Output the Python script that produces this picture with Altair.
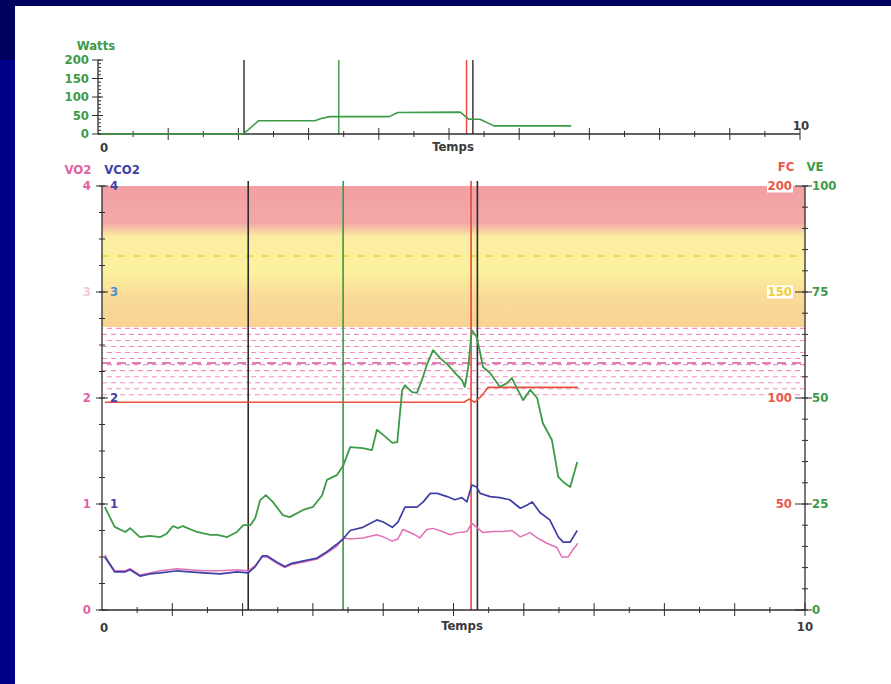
import altair as alt
import numpy as np
import pandas as pd

# ---------------- exercise test recordings (time in minutes) ----------------
# workload, top panel
watts_time = [0.03, 2.07, 2.29, 3.09, 3.18, 3.30, 4.15, 4.27, 5.16, 5.28, 5.44, 5.64, 6.74]
watts = [0, 0, 36, 36, 42, 47, 47, 58, 59, 40, 40, 22, 22]

# ventilation VE (l/min)
ve_time = [0.04, 0.18, 0.33, 0.40, 0.54, 0.68, 0.83, 0.92, 1.01, 1.08, 1.15, 1.35, 1.54,
           1.64, 1.78, 1.92, 2.01, 2.11, 2.18, 2.25, 2.33, 2.43, 2.57, 2.67, 2.86, 3.00,
           3.13, 3.20, 3.34, 3.43, 3.53, 3.71, 3.84, 3.91, 4.00, 4.13, 4.20, 4.27, 4.31,
           4.41, 4.48, 4.55, 4.62, 4.71, 4.81, 4.92, 5.05, 5.12, 5.16, 5.21, 5.26, 5.33,
           5.38, 5.42, 5.52, 5.66, 5.76, 5.83, 5.90, 5.99, 6.09, 6.19, 6.27, 6.40, 6.49,
           6.56, 6.66, 6.76]
ve = [24.3, 19.6, 18.4, 19.3, 17.2, 17.5, 17.2, 18.0, 19.8, 19.3, 19.8, 18.4, 17.7,
      17.7, 17.2, 18.4, 20.0, 20.0, 21.7, 25.9, 27.1, 25.5, 22.4, 21.9, 23.6, 24.3,
      27.0, 30.7, 31.8, 34.0, 38.4, 38.2, 37.7, 42.5, 41.3, 39.4, 39.6, 51.9, 53.0,
      51.4, 51.2, 54.2, 57.8, 61.3, 59.4, 57.8, 55.4, 54.2, 52.6, 57.3, 66.0, 64.4,
      60.6, 57.3, 55.9, 52.6, 53.5, 54.7, 52.4, 49.5, 51.9, 50.0, 44.1, 40.1, 31.4,
      30.2, 29.0, 34.9]

# carbon dioxide output VCO2 (l/min)
vco2_time = [0.04, 0.09, 0.18, 0.33, 0.40, 0.54, 0.68, 0.83, 1.07, 1.25, 1.44, 1.68, 1.92,
             2.08, 2.18, 2.28, 2.35, 2.49, 2.60, 2.70, 2.92, 3.06, 3.20, 3.34, 3.43, 3.53,
             3.71, 3.91, 4.00, 4.13, 4.21, 4.31, 4.48, 4.57, 4.67, 4.77, 4.91, 5.02, 5.12,
             5.19, 5.26, 5.33, 5.38, 5.52, 5.66, 5.80, 5.95, 6.05, 6.12, 6.23, 6.37, 6.49,
             6.56, 6.66, 6.76]
vco2 = [0.50, 0.45, 0.36, 0.36, 0.38, 0.32, 0.34, 0.35, 0.37, 0.36, 0.35, 0.34, 0.36,
        0.35, 0.41, 0.51, 0.51, 0.45, 0.41, 0.44, 0.47, 0.49, 0.55, 0.62, 0.67, 0.75,
        0.78, 0.85, 0.83, 0.78, 0.83, 0.97, 0.97, 1.02, 1.10, 1.10, 1.07, 1.04, 1.06,
        1.02, 1.18, 1.16, 1.10, 1.07, 1.06, 1.04, 0.96, 0.99, 1.02, 0.92, 0.85, 0.69,
        0.64, 0.64, 0.75]

# oxygen uptake VO2 (l/min)
vo2_time = [0.04, 0.09, 0.18, 0.33, 0.40, 0.54, 0.68, 0.83, 1.07, 1.25, 1.44, 1.68, 1.92,
            2.08, 2.18, 2.28, 2.35, 2.49, 2.60, 2.70, 2.92, 3.06, 3.20, 3.34, 3.43, 3.53,
            3.71, 3.91, 4.00, 4.13, 4.21, 4.28, 4.35, 4.45, 4.52, 4.62, 4.71, 4.84, 4.95,
            5.06, 5.19, 5.26, 5.33, 5.42, 5.56, 5.70, 5.83, 5.95, 6.09, 6.19, 6.33, 6.47,
            6.54, 6.63, 6.70, 6.77]
vo2 = [0.52, 0.46, 0.37, 0.37, 0.39, 0.33, 0.35, 0.37, 0.39, 0.38, 0.37, 0.37, 0.38,
       0.37, 0.42, 0.50, 0.50, 0.44, 0.40, 0.43, 0.46, 0.48, 0.54, 0.60, 0.68, 0.67,
       0.68, 0.71, 0.69, 0.65, 0.67, 0.76, 0.74, 0.71, 0.68, 0.76, 0.77, 0.74, 0.71,
       0.73, 0.74, 0.82, 0.78, 0.73, 0.74, 0.74, 0.75, 0.69, 0.73, 0.68, 0.63, 0.59,
       0.50, 0.50, 0.57, 0.63]

# heart rate FC (bpm)
fc_time = [0.04, 5.15, 5.22, 5.30, 5.40, 5.49, 6.77]
fc = [98, 98, 99.5, 98, 101, 105, 105]

# event markers (time) and their kinds
event_time = [2.08, 3.43, 5.25, 5.34]
event_kind = ["start", "threshold", "peak", "stop"]

# heart-rate training zones (bpm)
zone_high = [133.5, 200]
zone_mid = [100.5, 133.5]
zone_dash_fc = 167

# axis ticks
gas_labels = [0, 1, 2, 3, 4]
vco2_labels = [1, 2, 3, 4]
fc_labels = [50, 100, 150, 200]
ve_labels = [0, 25, 50, 75, 100]
watts_labels = [0, 50, 100, 150, 200]

# ---------------- styling ----------------
FONT = "DejaVu Sans Condensed, Liberation Sans Narrow, DejaVu Sans, sans-serif"
PINK = "#e2629f"
BLUE = "#3f3fa6"
GREEN = "#3d9a47"
RED = "#e8503c"
AXIS = "#2e2e2e"
GREY = "#3a3a3a"
EVENT_COLORS = {"start": "#2b2b2b", "threshold": "#3a9a44", "peak": "#e8463c", "stop": "#2b2b2b"}

# geometry of the two panels inside the view
MAIN_X = [87, 790]
MAIN_Y = [604, 180]
TOP_X = [83, 785]
TOP_Y = [128, 54]


def sc(domain, rng):
    return alt.Scale(domain=domain, range=rng, nice=False, zero=False)


t_main = sc([0, 10], MAIN_X)
t_top = sc([0, 10], TOP_X)
y_gas = sc([0, 4], MAIN_Y)
y_fc = sc([0, 200], MAIN_Y)
y_ve = sc([0, 100], MAIN_Y)
y_w = sc([0, 200], TOP_Y)

one = pd.DataFrame({"k": [0]})
layers = []

# lighter blue lower part of the left margin
layers.append(alt.Chart(one).mark_rect(color="#000088").encode(
    x=alt.value(-15), x2=alt.value(0), y=alt.value(54), y2=alt.value(678)))

# ---- zones ----
grad = alt.LinearGradient(
    gradient="linear", x1=0, x2=0, y1=0, y2=1,
    stops=[alt.GradientStop(offset=0.0, color="#f2a0a3"),
           alt.GradientStop(offset=0.26, color="#f3a8a6"),
           alt.GradientStop(offset=0.36, color="#fbeda2"),
           alt.GradientStop(offset=0.60, color="#fcf29e"),
           alt.GradientStop(offset=0.78, color="#fadb98"),
           alt.GradientStop(offset=1.0, color="#f9d292")])
zone_df = pd.DataFrame({"t0": [0], "t1": [10], "lo": [zone_high[0]], "hi": [zone_high[1]]})
layers.append(alt.Chart(zone_df).mark_rect(color=grad).encode(
    x=alt.X("t0:Q", scale=t_main, axis=None), x2="t1:Q",
    y=alt.Y("hi:Q", scale=y_fc, axis=None), y2="lo:Q"))

dash_df = pd.DataFrame({"t0": [0], "t1": [10], "fc": [zone_dash_fc]})
layers.append(alt.Chart(dash_df).mark_rule(color="#eccf3a", strokeWidth=1.5, strokeDash=[7, 9]).encode(
    x=alt.X("t0:Q", scale=t_main, axis=None), x2="t1:Q", y=alt.Y("fc:Q", scale=y_fc, axis=None)))

# dashed hatching of the moderate zone
rows = np.arange(zone_mid[0] + 1.0, zone_mid[1], 2.85)
for i, off in enumerate([0, 4]):
    hatch = pd.DataFrame({"t0": 0, "t1": 10, "fc": rows[i::2]})
    layers.append(alt.Chart(hatch).mark_rule(color="#ee8fbf", strokeWidth=1.1,
                                             strokeDash=[5, 4], strokeDashOffset=off).encode(
        x=alt.X("t0:Q", scale=t_main, axis=None), x2="t1:Q", y=alt.Y("fc:Q", scale=y_fc, axis=None)))
wave = pd.DataFrame({"t0": [0], "t1": [10], "fc": [116.5]})
layers.append(alt.Chart(wave).mark_rule(color="#d45595", strokeWidth=1.4, strokeDash=[9, 6]).encode(
    x=alt.X("t0:Q", scale=t_main, axis=None), x2="t1:Q", y=alt.Y("fc:Q", scale=y_fc, axis=None)))

# ---- event markers ----
ev = pd.DataFrame({"t": event_time, "kind": event_kind})
ev_color = alt.Color("kind:N", scale=alt.Scale(domain=list(EVENT_COLORS), range=list(EVENT_COLORS.values())),
                     legend=None)
layers.append(alt.Chart(ev).mark_rule(strokeWidth=1.6).encode(
    x=alt.X("t:Q", scale=t_main, axis=None), y=alt.value(175), y2=alt.value(604), color=ev_color))
layers.append(alt.Chart(ev).mark_rule(strokeWidth=1.4).encode(
    x=alt.X("t:Q", scale=t_top, axis=None), y=alt.value(54), y2=alt.value(128), color=ev_color))


# ---- axes helpers ----
def vticks(values, yscale, x0, x1, color=AXIS):
    df = pd.DataFrame({"v": values})
    return alt.Chart(df).mark_rule(color=color, strokeWidth=1).encode(
        x=alt.value(x0), x2=alt.value(x1), y=alt.Y("v:Q", scale=yscale, axis=None))


def hticks(values, xscale, y0, y1, color=AXIS):
    df = pd.DataFrame({"v": values})
    return alt.Chart(df).mark_rule(color=color, strokeWidth=1).encode(
        y=alt.value(y0), y2=alt.value(y1), x=alt.X("v:Q", scale=xscale, axis=None))


def labels(values, yscale, x, align, color, size=13):
    df = pd.DataFrame({"v": values, "s": [str(v) for v in values]})
    return alt.Chart(df).mark_text(align=align, baseline="middle", font=FONT, fontWeight="bold",
                                   fontSize=size).encode(
        x=alt.value(x), y=alt.Y("v:Q", scale=yscale, axis=None), text="s:N", color=color)


def title(text, x, y, color, align="center", size=13, weight="bold"):
    return alt.Chart(one).mark_text(text=text, align=align, baseline="middle", font=FONT,
                                    fontWeight=weight, fontSize=size, color=color).encode(
        x=alt.value(x), y=alt.value(y))


# main panel axis lines
frame = pd.DataFrame({"t": [0, 10]})
layers.append(alt.Chart(frame).mark_rule(color=AXIS, strokeWidth=1.3).encode(
    x=alt.X("t:Q", scale=t_main, axis=None), y=alt.value(180), y2=alt.value(604)))
base = pd.DataFrame({"t0": [0], "t1": [10], "v": [0]})
layers.append(alt.Chart(base).mark_rule(color=AXIS, strokeWidth=1.3).encode(
    x=alt.X("t0:Q", scale=t_main, axis=None), x2="t1:Q", y=alt.Y("v:Q", scale=y_gas, axis=None)))

# ticks: left (gas), right (VE), bottom (time)
layers.append(vticks(list(np.arange(0, 4.01, 0.25)), y_gas, 84, 90))
layers.append(vticks(gas_labels, y_gas, 81, 93))
layers.append(vticks(list(np.arange(0, 100.1, 5)), y_ve, 787, 793))
layers.append(vticks(ve_labels, y_ve, 780, 797))
layers.append(hticks(list(np.arange(0.5, 10, 1.0)), t_main, 601, 607))
layers.append(hticks(list(range(1, 11)), t_main, 597, 610))

# top panel axis lines and ticks
layers.append(alt.Chart(pd.DataFrame({"t": [0]})).mark_rule(color=AXIS, strokeWidth=1.3).encode(
    x=alt.X("t:Q", scale=t_top, axis=None), y=alt.value(54), y2=alt.value(128)))
layers.append(alt.Chart(base).mark_rule(color=AXIS, strokeWidth=1.3).encode(
    x=alt.X("t0:Q", scale=t_top, axis=None), x2="t1:Q", y=alt.Y("v:Q", scale=y_w, axis=None)))
layers.append(vticks(list(range(0, 201, 10)), y_w, 83, 86))
layers.append(vticks(watts_labels, y_w, 77, 88))
layers.append(hticks(list(np.arange(0.5, 10, 1.0)), t_top, 125, 131))
layers.append(hticks(list(range(1, 11)), t_top, 122, 134))

# ---- data series ----
def series(times, values, tscale, yscale, color, width):
    df = pd.DataFrame({"t": times, "v": values})
    return alt.Chart(df).mark_line(color=color, strokeWidth=width, strokeJoin="round").encode(
        x=alt.X("t:Q", scale=tscale, axis=None), y=alt.Y("v:Q", scale=yscale, axis=None))


layers.append(series(watts_time, watts, t_top, y_w, GREEN, 1.6))
layers.append(series(fc_time, fc, t_main, y_fc, RED, 1.6))
layers.append(series(vo2_time, vo2, t_main, y_gas, "#e071b6", 1.5))
layers.append(series(vco2_time, vco2, t_main, y_gas, BLUE, 1.7))
layers.append(series(ve_time, ve, t_main, y_ve, GREEN, 1.8))

# ---- tick labels ----
layers.append(labels(gas_labels, y_gas, 76, "right",
                     alt.condition(alt.datum.v == 3, alt.value("#f3c9da"), alt.value(PINK))))
layers.append(labels(vco2_labels, y_gas, 95, "left",
                     alt.condition(alt.datum.v == 3, alt.value("#4b8fda"), alt.value(BLUE))))

# white boxes behind the heart-rate labels that sit on the zones
box = pd.DataFrame({"v": [150, 200]})
layers.append(alt.Chart(box).mark_tick(orient="horizontal", color="white", opacity=1,
                                       size=26, thickness=13).encode(
    x=alt.value(765), y=alt.Y("v:Q", scale=y_fc, axis=None)))
layers.append(labels(fc_labels, y_fc, 777, "right",
                     alt.condition(alt.datum.v == 150, alt.value("#f0cf2e"), alt.value("#e8584a"))))
layers.append(labels(ve_labels, y_ve, 797, "left", alt.value(GREEN)))
layers.append(labels(watts_labels, y_w, 74, "right", alt.value(GREEN)))

# axis titles
layers.append(title("VO2", 63, 164, PINK))
layers.append(title("VCO2", 107, 164, BLUE))
layers.append(title("FC", 771, 161, "#e8584a"))
layers.append(title("VE", 800, 161, GREEN))
layers.append(title("Watts", 81, 40, GREEN))

# time axis labels
layers.append(title("0", 89, 622, GREY, size=13))
layers.append(title("Temps", 447, 620, GREY, size=13))
layers.append(title("10", 790, 621, GREY, size=13))
layers.append(title("0", 89, 142, GREY, size=13))
layers.append(title("Temps", 438, 141, GREY, size=13))
layers.append(title("10", 786, 120, GREY, size=13))

chart = alt.layer(*layers).resolve_scale(x="independent", y="independent", color="independent").properties(
    width=876, height=678,
    padding={"left": 15, "top": 6, "right": 0, "bottom": 0},
    autosize=alt.AutoSizeParams(type="none"),
    background="#00005e",
).configure_view(fill="white", stroke=None)

chart.save("out.html", embed_options={"renderer": "svg", "actions": False})
